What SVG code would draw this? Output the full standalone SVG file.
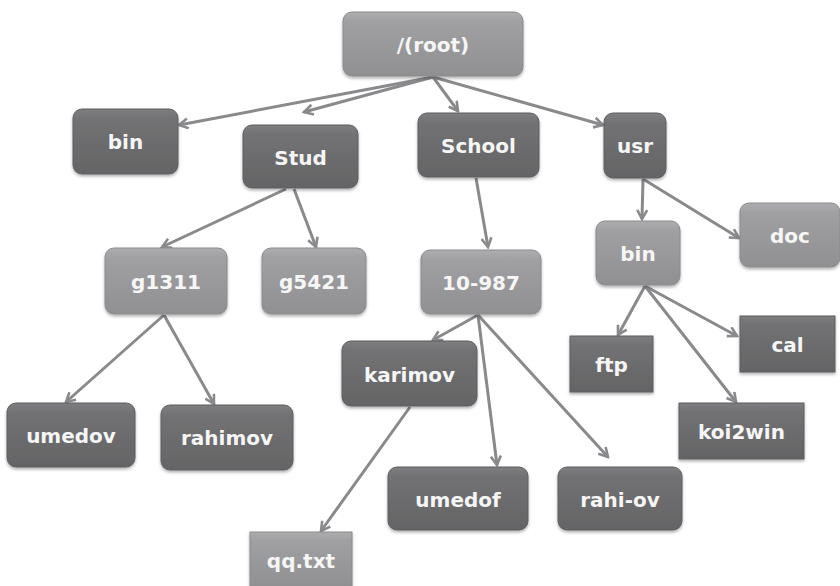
<svg xmlns="http://www.w3.org/2000/svg" width="840" height="586" viewBox="0 0 840 586">
<defs>
<linearGradient id="gd" x1="0" y1="0" x2="0" y2="1"><stop offset="0" stop-color="#7e7e80"/><stop offset="0.15" stop-color="#727274"/><stop offset="1" stop-color="#646466"/></linearGradient>
<linearGradient id="gl" x1="0" y1="0" x2="0" y2="1"><stop offset="0" stop-color="#adadaf"/><stop offset="0.15" stop-color="#a0a0a2"/><stop offset="1" stop-color="#909092"/></linearGradient>
<filter id="sh" x="-10%" y="-10%" width="120%" height="130%"><feDropShadow dx="0" dy="2" stdDeviation="1.5" flood-color="#000" flood-opacity="0.3"/></filter>
<marker id="ar" viewBox="0 0 12 12" refX="10" refY="6" markerWidth="12" markerHeight="12" markerUnits="userSpaceOnUse" orient="auto"><polyline points="1,1 10,6 1,11" fill="none" stroke="#8a8a8c" stroke-width="2.6" stroke-linejoin="miter"/></marker>
</defs>
<style>
.d{fill:url(#gd);stroke:#5e5e60;stroke-width:1;filter:url(#sh)}
.l{fill:url(#gl);stroke:#8a8a8c;stroke-width:1;filter:url(#sh)}
text{font-family:"DejaVu Sans","Liberation Sans",sans-serif;font-weight:bold;font-size:20px;fill:#f6f6f6;text-anchor:middle}
.c line{stroke:#8a8a8c;stroke-width:3;marker-end:url(#ar)}
</style>
<rect width="840" height="586" fill="#ffffff"/>
<g class="c" id="connectors">
<line x1="433" y1="77" x2="179" y2="125"/>
<line x1="433" y1="77" x2="304" y2="112"/>
<line x1="433" y1="77" x2="458" y2="111"/>
<line x1="433" y1="77" x2="603" y2="125"/>
<line x1="286" y1="189" x2="162" y2="247"/>
<line x1="294" y1="189" x2="316" y2="247"/>
<line x1="476" y1="178" x2="488" y2="247"/>
<line x1="643" y1="179" x2="642" y2="219"/>
<line x1="643" y1="179" x2="739" y2="238"/>
<line x1="645" y1="286" x2="618" y2="335"/>
<line x1="645" y1="286" x2="737" y2="336"/>
<line x1="645" y1="286" x2="736" y2="402"/>
<line x1="164" y1="315" x2="66" y2="402"/>
<line x1="164" y1="315" x2="214" y2="404"/>
<line x1="478" y1="315" x2="433" y2="340"/>
<line x1="478" y1="315" x2="497" y2="465"/>
<line x1="478" y1="315" x2="608" y2="457"/>
<line x1="410" y1="407" x2="321" y2="531"/>
</g>
<g id="root"><rect class="l" x="343" y="12" width="180" height="64" rx="9"/><text x="433" y="52">/(root)</text></g>
<g id="bin"><rect class="d" x="73" y="109" width="105" height="65" rx="9"/><text x="125.5" y="149">bin</text></g>
<g id="stud"><rect class="d" x="243" y="125" width="115" height="63" rx="9"/><text x="300.5" y="165">Stud</text></g>
<g id="school"><rect class="d" x="418" y="113" width="121" height="64" rx="9"/><text x="478.5" y="153">School</text></g>
<g id="usr"><rect class="d" x="604" y="113" width="62" height="65" rx="9"/><text x="635" y="153">usr</text></g>
<g id="doc"><rect class="l" x="740" y="203" width="100" height="64" rx="9"/><text x="790" y="243">doc</text></g>
<g id="usr-bin"><rect class="l" x="596" y="221" width="84" height="64" rx="9"/><text x="638" y="261">bin</text></g>
<g id="ftp"><rect class="d" x="570" y="336" width="83" height="56"/><text x="611.5" y="372">ftp</text></g>
<g id="cal"><rect class="d" x="740" y="316" width="95" height="56"/><text x="787.5" y="352">cal</text></g>
<g id="koi2win"><rect class="d" x="679" y="403" width="125" height="56"/><text x="741.5" y="439">koi2win</text></g>
<g id="g1311"><rect class="l" x="105" y="248" width="122" height="66" rx="9"/><text x="166" y="289">g1311</text></g>
<g id="g5421"><rect class="l" x="262" y="248" width="104" height="66" rx="9"/><text x="314" y="289">g5421</text></g>
<g id="n10-987"><rect class="l" x="421" y="250" width="120" height="64" rx="9"/><text x="481" y="290">10-987</text></g>
<g id="karimov"><rect class="d" x="342" y="341" width="135" height="65" rx="9"/><text x="409.5" y="382">karimov</text></g>
<g id="umedov"><rect class="d" x="7" y="403" width="128" height="64" rx="9"/><text x="71" y="443">umedov</text></g>
<g id="rahimov"><rect class="d" x="161" y="405" width="132" height="65" rx="9"/><text x="227" y="445">rahimov</text></g>
<g id="umedof"><rect class="d" x="388" y="467" width="140" height="63" rx="9"/><text x="458" y="507">umedof</text></g>
<g id="rahi-ov"><rect class="d" x="558" y="467" width="124" height="63" rx="9"/><text x="620" y="507">rahi-ov</text></g>
<g id="qq"><rect class="l" x="250" y="532" width="102" height="56"/><text x="301" y="568">qq.txt</text></g>
</svg>
